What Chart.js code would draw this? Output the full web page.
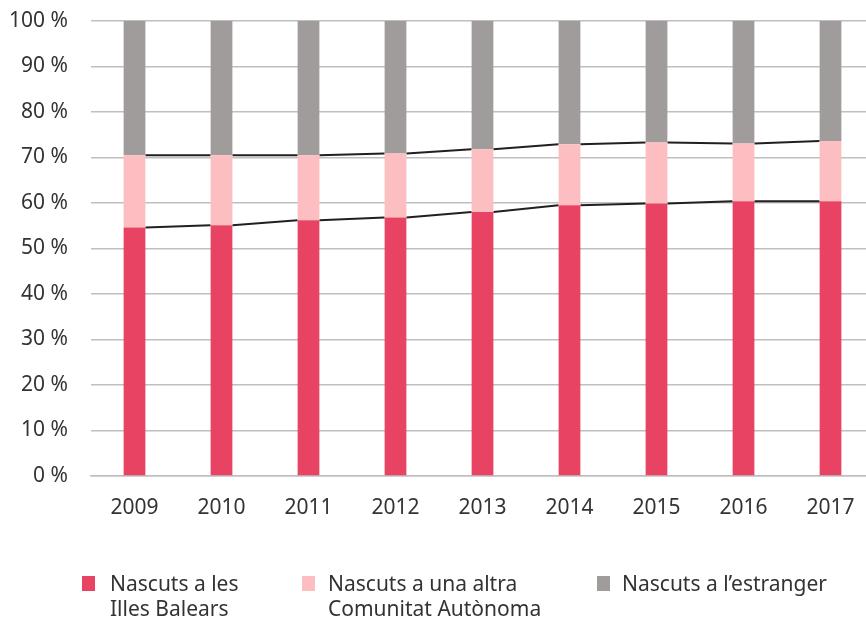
<!DOCTYPE html>
<html>
<head>
<meta charset="utf-8">
<script src="https://cdn.jsdelivr.net/npm/chart.js@4"></script>
<style>
  html, body { margin: 0; padding: 0; background: #fff; overflow: hidden; }
  #wrap { position: relative; width: 874px; height: 618px; }
  #legend { position: absolute; left: 0; top: 0; width: 866px; height: 618px; pointer-events: none;
            font-family: "Noto Sans", sans-serif; font-size: 21px; line-height: 25px; color: #333; }
  .item { position: absolute; top: 571px; }
  .sw { position: absolute; width: 13px; height: 15px; top: 5px; }
  .txt { position: absolute; white-space: pre; }
</style>
</head>
<body>
<div id="wrap">
  <canvas id="chart" width="874" height="618"></canvas>
  <div id="legend"></div>
</div>
<script>
// years on the x axis
const years = ['2009', '2010', '2011', '2012', '2013', '2014', '2015', '2016', '2017'];

// share of population (%) by birthplace
const balears   = [54.6, 55.1, 56.2, 56.8, 58.0, 59.5, 59.9, 60.4, 60.4];
const altraCA   = [15.9, 15.4, 14.3, 14.1, 13.8, 13.4, 13.4, 12.7, 13.2];
const estranger = [29.5, 29.5, 29.5, 29.1, 28.2, 27.1, 26.7, 26.9, 26.4];

const seriesNames = ['Nascuts a les\nIlles Balears', 'Nascuts a una altra\nComunitat Autònoma', 'Nascuts a l\u2019estranger'];
const colors = ['#E84362', '#FDBEC1', '#A09C9B'];

const yTicks = [0, 10, 20, 30, 40, 50, 60, 70, 80, 90, 100];

// Excel style series lines: join the top of each stack segment between neighbouring bars
const seriesLines = {
    id: 'seriesLines',
    beforeDatasetsDraw(chart) {
        const ctx = chart.ctx;
        ctx.save();
        ctx.strokeStyle = '#231F20';
        ctx.lineWidth = 2;
        [0, 1].forEach(d => {
            const bars = chart.getDatasetMeta(d).data;
            ctx.beginPath();
            for (let i = 0; i < bars.length - 1; i++) {
                const a = bars[i], b = bars[i + 1];
                ctx.moveTo(a.x + a.width / 2, a.y);
                ctx.lineTo(b.x - b.width / 2, b.y);
            }
            ctx.stroke();
        });
        ctx.restore();
    }
};

const font = { family: '"Noto Sans", sans-serif', size: 21 };

const chart = new Chart(document.getElementById('chart').getContext('2d'), {
    type: 'bar',
    data: {
        labels: years,
        datasets: [balears, altraCA, estranger].map((d, i) => ({
            label: seriesNames[i],
            data: d,
            backgroundColor: colors[i],
            barPercentage: 0.25,
            categoryPercentage: 1.0
        }))
    },
    options: {
        responsive: false,
        animation: false,
        layout: { padding: { top: 21, bottom: 92, right: 0 } },
        plugins: { legend: { display: false }, tooltip: { enabled: false } },
        scales: {
            x: {
                stacked: true,
                afterFit(scale) { scale.height = 50; scale.paddingLeft = 0; scale.paddingRight = 0; },
                grid: { display: false, drawTicks: false },
                border: { display: true, color: '#BFBFBF', width: 1.5 },
                ticks: { color: '#333', font: font, padding: 19, maxRotation: 0 }
            },
            y: {
                stacked: true,
                min: 0, max: 100,
                afterFit(scale) { scale.width = 91; scale.paddingTop = 0; scale.paddingBottom = 0; },
                afterBuildTicks(scale) { scale.ticks = yTicks.map(v => ({ value: v })); },
                grid: { color: '#BFBFBF', lineWidth: 1.5, drawTicks: false },
                border: { display: false },
                ticks: { color: '#333', font: font, padding: 23, callback: v => v + ' %' }
            }
        }
    },
    plugins: [seriesLines]
});

// legend below the chart, built from the datasets
const legendX = [[82, 110], [302, 328], [597, 622]];
const legend = document.getElementById('legend');
chart.data.datasets.forEach((ds, i) => {
    const it = document.createElement('div');
    it.className = 'item';
    const sw = document.createElement('div');
    sw.className = 'sw';
    sw.style.left = legendX[i][0] + 'px';
    sw.style.background = ds.backgroundColor;
    const tx = document.createElement('div');
    tx.className = 'txt';
    tx.style.left = legendX[i][1] + 'px';
    tx.textContent = ds.label;
    it.appendChild(sw);
    it.appendChild(tx);
    legend.appendChild(it);
});
</script>
</body>
</html>
